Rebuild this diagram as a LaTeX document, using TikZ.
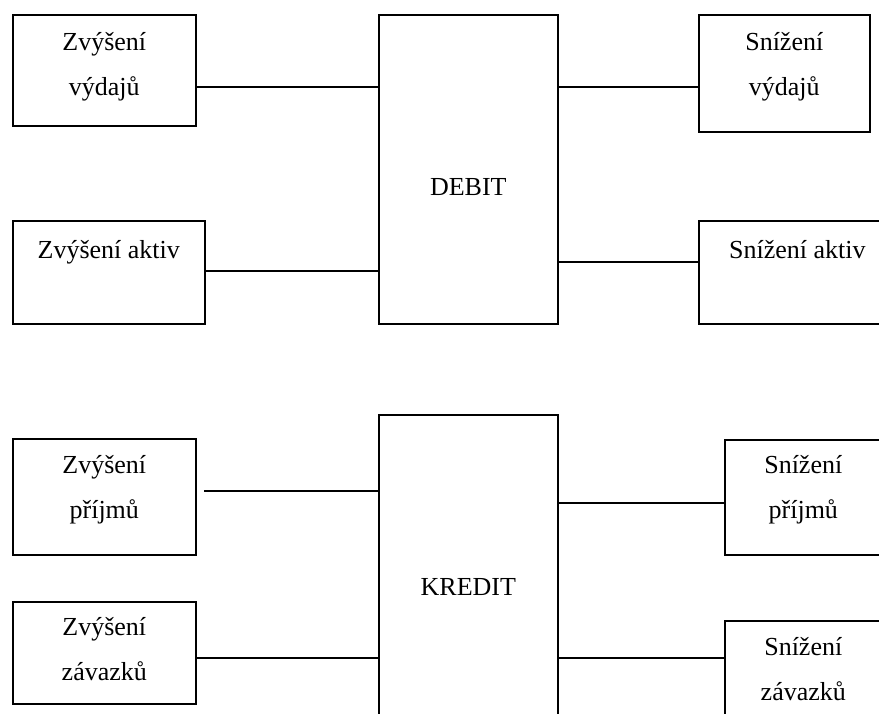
\documentclass[tikz,border=0pt]{standalone}
\usepackage{fontspec}
\setmainfont{Liberation Serif}

\newcommand{\ucettext}[2]{\parbox[t]{#1}{\centering #2}}

\begin{document}
\begin{tikzpicture}
  [x=1pt,y=-1pt,font=\fontsize{26}{45}\selectfont,
   ucet/.style={draw,line width=1.6pt,inner sep=0pt,anchor=north west},
   spoj/.style={line width=1.6pt},
   silny/.style={line width=2.6pt}]
  \clip (0,0) rectangle (879,714);

  \node[ucet,text height=181pt,text depth=128pt] (debit) at (378,14) {\ucettext{179pt}{DEBIT}};
  \node[ucet,text height=181pt,text depth=128pt] (kredit) at (378,414) {\ucettext{179pt}{KREDIT}};

  \node[ucet,text height=36pt,text depth=75pt] (zvyd) at (12,14) {\ucettext{183pt}{Zvýšení\\výdajů}};
  \node[ucet,text height=38pt,text depth=65pt] (zakt) at (12,220) {\ucettext{192pt}{Zvýšení aktiv}};
  \node[ucet,text height=36pt,text depth=81pt] (svyd) at (698,14) {\ucettext{171pt}{Snížení\\výdajů}};
  \node[ucet,text height=38pt,text depth=65pt] (sakt) at (698,220) {\ucettext{197pt}{Snížení aktiv}};

  \node[ucet,text height=35pt,text depth=81pt] (zpri) at (12,438) {\ucettext{183pt}{Zvýšení\\příjmů}};
  \node[ucet,text height=34pt,text depth=68pt] (zzav) at (12,601) {\ucettext{183pt}{Zvýšení\\závazků}};
  \node[ucet,text height=34pt,text depth=81pt] (spri) at (724,439) {\ucettext{157pt}{Snížení\\příjmů}};
  \node[ucet,text height=35pt,text depth=110pt] (szav) at (724,620) {\ucettext{157pt}{Snížení\\závazků}};

  \coordinate (zpri-konec) at (204,491);

  \draw[spoj] (zvyd.east |- 0,87) -- (debit.west |- 0,87);
  \draw[spoj] (zakt.east |- 0,271) -- (debit.west |- 0,271);
  \draw[spoj] (debit.east |- 0,87) -- (svyd.west |- 0,87);
  \draw[spoj] (debit.east |- 0,262) -- (sakt.west |- 0,262);

  \draw[spoj] (zpri-konec) -- (kredit.west |- zpri-konec);
  \draw[silny] (zzav.east |- 0,658) -- (kredit.west |- 0,658);
  \draw[spoj] (kredit.east |- 0,503) -- (spri.west |- 0,503);
  \draw[silny] (kredit.east |- 0,658) -- (szav.west |- 0,658);
\end{tikzpicture}
\end{document}
